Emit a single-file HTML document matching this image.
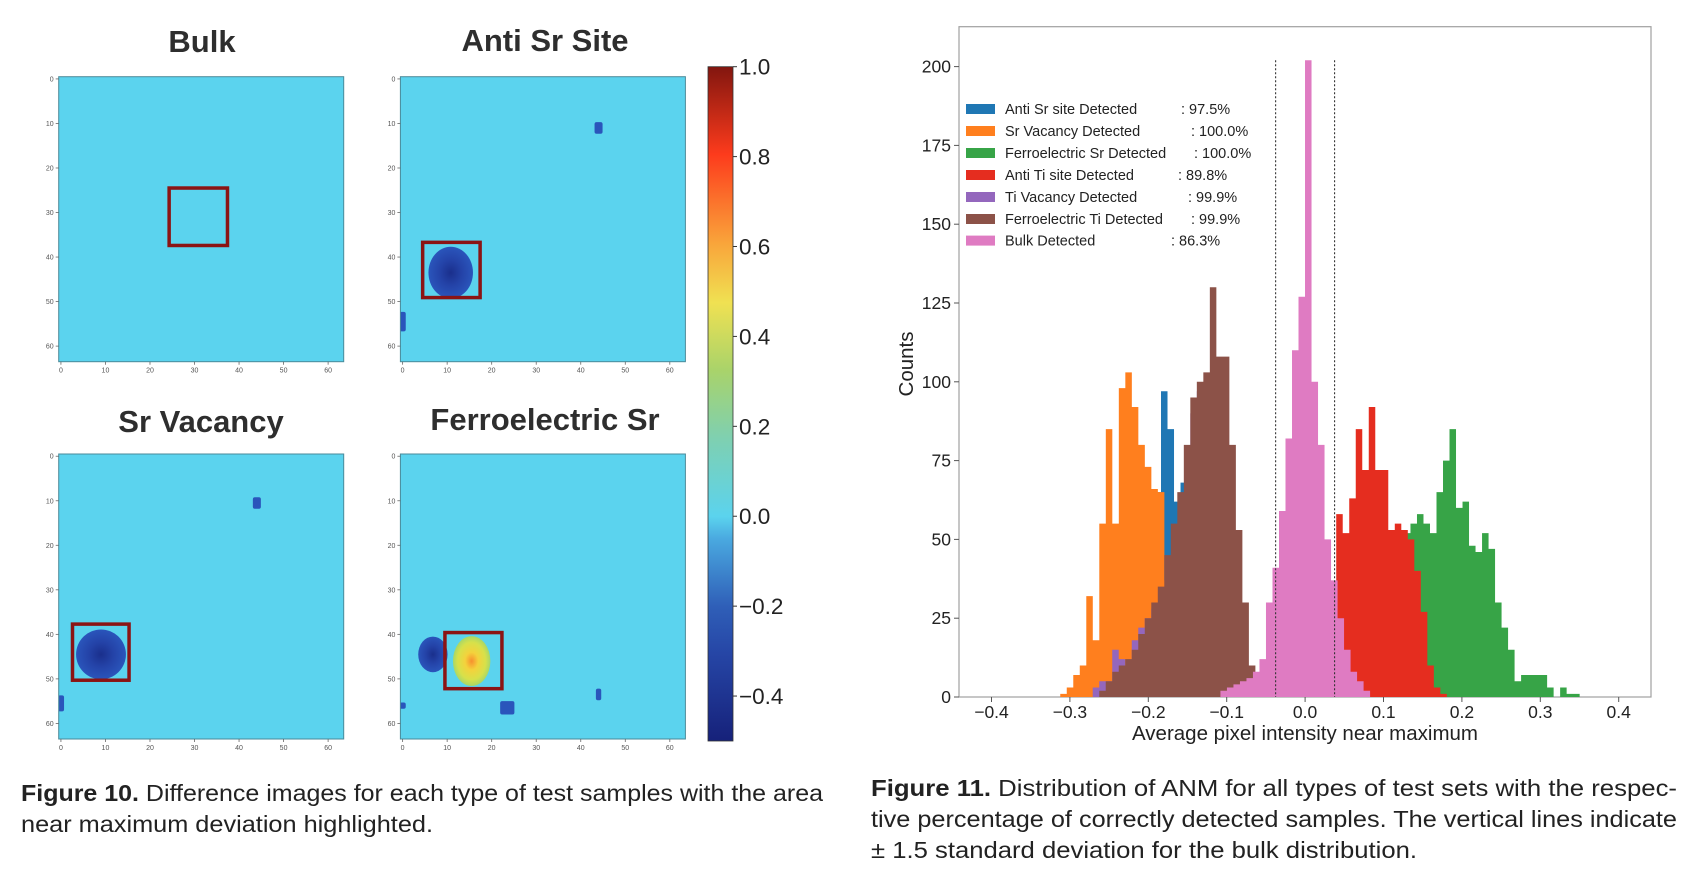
<!DOCTYPE html>
<html><head><meta charset="utf-8"><style>
html,body{margin:0;padding:0;background:#fff;}
svg{display:block;}
text{font-family:"Liberation Sans",sans-serif;}
</style></head><body>
<svg id="root" width="1704" height="871" viewBox="0 0 1704 871" xmlns="http://www.w3.org/2000/svg">
<defs>
<linearGradient id="jet" x1="0" y1="1" x2="0" y2="0">
<stop offset="0" stop-color="#16217a"/>
<stop offset="0.13" stop-color="#2646a6"/>
<stop offset="0.2" stop-color="#2f5fb8"/>
<stop offset="0.3" stop-color="#4aa9e0"/>
<stop offset="0.333" stop-color="#5bd3ee"/>
<stop offset="0.45" stop-color="#7fd0b0"/>
<stop offset="0.55" stop-color="#a9d36a"/>
<stop offset="0.65" stop-color="#f0e152"/>
<stop offset="0.74" stop-color="#f9a33a"/>
<stop offset="0.87" stop-color="#fd3b1c"/>
<stop offset="1" stop-color="#82160f"/>
</linearGradient>
<radialGradient id="blueBlob"><stop offset="0" stop-color="#1a2f8c"/><stop offset="0.5" stop-color="#2443a8"/><stop offset="1" stop-color="#2a55bb"/></radialGradient>
<radialGradient id="yellowBlob"><stop offset="0" stop-color="#f7902e"/><stop offset="0.35" stop-color="#f4d23c"/><stop offset="0.75" stop-color="#d7e14a"/><stop offset="1" stop-color="#a8d768"/></radialGradient>
</defs>
<g id="fig10"></g>
<g id="fig11"></g>
<text x="21" y="801" font-size="23" fill="#222" textLength="802" lengthAdjust="spacingAndGlyphs"><tspan font-weight="bold">Figure 10.</tspan>  Difference images for each type of test samples with the area</text>
<text x="21" y="832" font-size="23" fill="#222" textLength="412" lengthAdjust="spacingAndGlyphs">near maximum deviation highlighted.</text>
<text x="871" y="796" font-size="23" fill="#222" textLength="806" lengthAdjust="spacingAndGlyphs"><tspan font-weight="bold">Figure 11.</tspan>  Distribution of ANM for all types of test sets with the respec-</text>
<text x="871" y="827" font-size="23" fill="#222" textLength="806" lengthAdjust="spacingAndGlyphs">tive percentage of correctly detected samples. The vertical lines indicate</text>
<text x="871" y="858" font-size="23" fill="#222" textLength="546" lengthAdjust="spacingAndGlyphs">± 1.5 standard deviation for the bulk distribution.</text>
</svg>
<script>
// ---------- Figure 11 histogram data ----------
const binWidth = 0.0083;
const seriesNames = ["Anti Sr site Detected","Sr Vacancy Detected","Ferroelectric Sr Detected","Anti Ti site Detected","Ti Vacancy Detected","Ferroelectric Ti Detected","Bulk Detected"];
const seriesPct = [": 97.5%",": 100.0%",": 100.0%",": 89.8%",": 99.9%",": 99.9%",": 86.3%"];
const seriesStart = [-0.2502,-0.3123,0.0597,0.0397,-0.2709,-0.2626,-0.1080];
const antiSrCounts = [2,5,10,20,35,50,60,65,97,85,62,68,60,45,30,20,15,10,8,10,3];
const srVacCounts = [1,3,7,10,32,18,55,85,55,98,103,92,80,73,66,65,37,25,15,5,2];
const ferroSrCounts = [3,6,10,20,30,40,45,50,52,55,58,55,52,65,75,85,60,62,48,46,52,47,30,22,15,5,7,7,7,7,3,0,3,1,1];
const antiTiCounts = [58,52,63,85,72,92,72,72,53,55,53,50,40,27,10,3,1];
const tiVacCounts = [3,5,5,15,12,10,18,22,25,28,30,22,40,50,62,90,97,100,95,80,60,40,20,8,2];
const ferroTiCounts = [2,5,8,10,12,15,20,25,30,35,45,55,65,80,95,100,103,130,108,108,80,53,30,10,3];
const bulkCounts = [2,3,4,5,6,8,12,30,41,59,82,110,127,202,100,80,50,37,25,15,8,5,2];
const xTicks = [-0.4,-0.3,-0.2,-0.1,0.0,0.1,0.2,0.3,0.4];
const xTickLabels = ["\u22120.4","\u22120.3","\u22120.2","\u22120.1","0.0","0.1","0.2","0.3","0.4"];
const yTicks = [0,25,50,75,100,125,150,175,200];
const bulkStdLines = [-0.0376,0.0376];
const seriesCounts = [antiSrCounts,srVacCounts,ferroSrCounts,antiTiCounts,tiVacCounts,ferroTiCounts,bulkCounts];
const seriesColors = ["#1f77b4","#ff7f1e","#37a447","#e52d1f","#9467bd","#8c5248","#df7bc2"];
const seriesKeys = ["anti-sr-site","sr-vacancy","ferroelectric-sr","anti-ti-site","ti-vacancy","ferroelectric-ti","bulk"];
// draw order (matplotlib plotting order)
const drawOrder = [0,1,2,3,4,5,6];

// ---------- Figure 10 heatmap data ----------
const panelTitles = ["Bulk","Anti Sr Site","Sr Vacancy","Ferroelectric Sr"];
// blobs: [panel, col, row, rx, ry, kind]
const blobPanel = [1,1,1, 2,2,2, 3,3,3,3,3];
const blobCol = [10.8,44,0, 9,44,0, 15.5,6.8,23.5,44,0];
const blobRow = [43.5,11,54.5, 44.5,10.5,55.5, 46,44.5,56.5,53.5,56];
const blobRx = [5,0.9,0.7, 5.6,0.9,0.7, 4.2,3.3,1.6,0.6,0.7];
const blobRy = [5.8,1.3,2.2, 5.6,1.3,1.8, 5.6,4,1.5,1.3,0.7];
const blobKind = ["blue","blue","blue","blue","blue","blue","yellow","blue","blue","blue","blue"];
// highlight boxes: col0,row0,col1,row1 per panel
const boxCol0 = [24.8,5,3.1,10];
const boxRow0 = [25,37.2,38.2,40.1];
const boxCol1 = [37.9,17.9,15.8,22.8];
const boxRow1 = [37.9,49.6,50.8,52.7];
const cbTicks = [1.0,0.8,0.6,0.4,0.2,0.0,-0.2,-0.4];
const cbTickLabels = ["1.0","0.8","0.6","0.4","0.2","0.0","\u22120.2","\u22120.4"];
const imgTicks = [0,10,20,30,40,50,60];

const NS = "http://www.w3.org/2000/svg";
function mk(tag, attrs, parent, txt){
  const e = document.createElementNS(NS, tag);
  for (const k in attrs) e.setAttribute(k, attrs[k]);
  if (txt !== undefined) e.textContent = txt;
  parent.appendChild(e);
  return e;
}

// ===== Figure 11 =====
const f11 = document.getElementById('fig11');
const X0 = 1305.1, XS = 784;
const Y0 = 697, YS = 3.152;
function xS(v){ return X0 + v*XS; }
function yS(c){ return Y0 - c*YS; }
const frame = mk('rect',{x:959,y:26.7,width:692,height:670.3,fill:'#fff',stroke:'#a0a0a0','stroke-width':1.2},f11);



drawOrder.forEach(function(si){
  const counts = seriesCounts[si];
  let d = 'M'+xS(seriesStart[si]).toFixed(2)+','+yS(0);
  counts.forEach(function(c,i){
    const xa = xS(seriesStart[si]+i*binWidth), xb = xS(seriesStart[si]+(i+1)*binWidth);
    d += 'L'+xa.toFixed(2)+','+yS(c).toFixed(2)+'L'+xb.toFixed(2)+','+yS(c).toFixed(2);
  });
  d += 'L'+xS(seriesStart[si]+counts.length*binWidth).toFixed(2)+','+yS(0)+'Z';
  const p = mk('path',{d:d,fill:seriesColors[si]},f11);
  
  
});

bulkStdLines.forEach(function(v,i){
  const l = mk('line',{x1:xS(v),x2:xS(v),y1:yS(202),y2:yS(0),stroke:'#333','stroke-width':1.1,'stroke-dasharray':'2,2'},f11);
  
  
});

yTicks.forEach(function(t){
  mk('line',{x1:954,x2:959,y1:yS(t),y2:yS(t),stroke:'#555','stroke-width':1},f11);
  const tx = mk('text',{x:951,y:yS(t)+6,'font-size':17.5,'text-anchor':'end',fill:'#222'},f11,String(t));
  
  
});
xTicks.forEach(function(t,i){
  mk('line',{x1:xS(t),x2:xS(t),y1:697,y2:702,stroke:'#555','stroke-width':1},f11);
  const tx = mk('text',{x:xS(t),y:718,'font-size':17.5,'text-anchor':'middle',fill:'#222'},f11,xTickLabels[i]);
  
  
});
const xt = mk('text',{x:1305,y:740,'font-size':20.5,'text-anchor':'middle',fill:'#222'},f11,'Average pixel intensity near maximum');


const yt = mk('text',{x:0,y:0,'font-size':20.5,'text-anchor':'middle',fill:'#222',transform:'translate(913,364) rotate(-90)'},f11,'Counts');



const legendX = [1181,1191,1194,1178,1188,1191,1171];
const legendRowY = [109,131,153,175,197,219,240.6];
const lg = mk('g',{},f11);


seriesNames.forEach(function(n,i){
  const g = mk('g',{},lg);
  
  
  mk('rect',{x:966,y:legendRowY[i]-5,width:29,height:10,fill:seriesColors[i]},g);
  mk('text',{x:1005,y:legendRowY[i]+5,'font-size':14.5,fill:'#222'},g,n);
  mk('text',{x:legendX[i],y:legendRowY[i]+5,'font-size':14.5,fill:'#222'},g,seriesPct[i]);
});

// ===== Figure 10 =====
const f10 = document.getElementById('fig10');
const panelX = [58.7,400.4,58.7,400.4];
const panelY = [76.7,76.7,454,454];
const PS = 285, U = 285/64;
const titleX = [202,545,201,545];
const titleY = [52,51,432,430];
panelTitles.forEach(function(t,pi){
  const g = mk('g',{},f10);
  
  
  const tt = mk('text',{x:titleX[pi],y:titleY[pi],'font-size':31,'font-weight':'bold','text-anchor':'middle',fill:'#2e2e2e'},g,t);
  
  
  const cid = 'clip'+pi;
  const cp = mk('clipPath',{id:cid},g);
  mk('rect',{x:panelX[pi],y:panelY[pi],width:PS,height:PS},cp);
  mk('rect',{x:panelX[pi],y:panelY[pi],width:PS,height:PS,fill:'#5bd3ee'},g);
  const bg = mk('g',{'clip-path':'url(#'+cid+')'},g);
  blobPanel.forEach(function(bp,bi){
    if (bp!==pi) return;
    const cx = panelX[pi]+(blobCol[bi]+0.5)*U, cy = panelY[pi]+(blobRow[bi]+0.5)*U;
    const small = blobRx[bi] < 2;
    let e;
    if (small) {
      e = mk('rect',{x:cx-blobRx[bi]*U,y:cy-blobRy[bi]*U,width:2*blobRx[bi]*U,height:2*blobRy[bi]*U,rx:2,fill:'#2a55bb'},bg);
    } else {
      e = mk('ellipse',{cx:cx,cy:cy,rx:blobRx[bi]*U,ry:blobRy[bi]*U,fill:blobKind[bi]==='yellow'?'url(#yellowBlob)':'url(#blueBlob)'},bg);
    }
    
    
  });
  const bx = mk('rect',{x:panelX[pi]+boxCol0[pi]*U,y:panelY[pi]+boxRow0[pi]*U,width:(boxCol1[pi]-boxCol0[pi])*U,height:(boxRow1[pi]-boxRow0[pi])*U,fill:'none',stroke:'#8b1414','stroke-width':3.5},g);
  
  
  mk('rect',{x:panelX[pi],y:panelY[pi],width:PS,height:PS,fill:'none',stroke:'#4a8a99','stroke-width':1},g);
  imgTicks.forEach(function(t){
    const p = (t+0.5)*U;
    mk('line',{x1:panelX[pi]+p,x2:panelX[pi]+p,y1:panelY[pi]+PS,y2:panelY[pi]+PS+3,stroke:'#666','stroke-width':0.8},g);
    mk('text',{x:panelX[pi]+p,y:panelY[pi]+PS+11,'font-size':7,'text-anchor':'middle',fill:'#555'},g,String(t));
    mk('line',{x1:panelX[pi]-3,x2:panelX[pi],y1:panelY[pi]+p,y2:panelY[pi]+p,stroke:'#666','stroke-width':0.8},g);
    mk('text',{x:panelX[pi]-5,y:panelY[pi]+p+2.5,'font-size':7,'text-anchor':'end',fill:'#555'},g,String(t));
  });
});
// colorbar
const cbTop = 66.7, cbBot = 741, cbX = 708, cbW = 25;
function cbY(v){ return cbTop + (1.0 - v)/1.5*(cbBot-cbTop); }
const cb = mk('rect',{x:cbX,y:cbTop,width:cbW,height:cbBot-cbTop,fill:'url(#jet)',stroke:'#333','stroke-width':0.8},f10);


cbTicks.forEach(function(t,i){
  mk('line',{x1:cbX+cbW,x2:cbX+cbW+4,y1:cbY(t),y2:cbY(t),stroke:'#333','stroke-width':1},f10);
  const tx = mk('text',{x:cbX+cbW+6,y:cbY(t)+8,'font-size':22.5,fill:'#222'},f10,cbTickLabels[i]);
  
  
});
</script>
</body></html>
